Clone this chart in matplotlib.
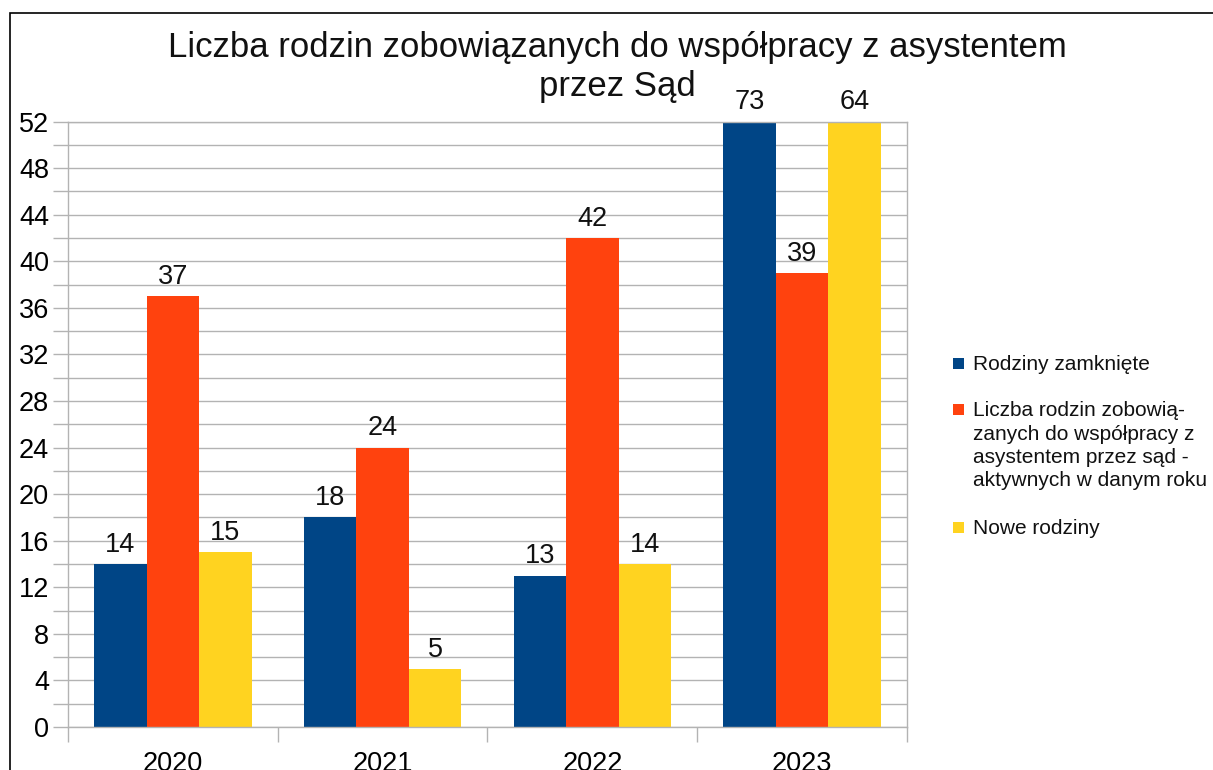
import matplotlib
matplotlib.use('Agg')
from matplotlib import pyplot as plt
from matplotlib import patches
import numpy as np

plt.rcParams['font.family'] = ['Liberation Sans', 'DejaVu Sans']

# dane z wykresu
years = ['2020', '2021', '2022', '2023']
zamkniete = [14, 18, 13, 73]
aktywne = [37, 24, 42, 39]
nowe = [15, 5, 14, 64]
series_names = ['Rodziny zamknięte',
                'Liczba rodzin zobowią-\nzanych do współpracy z\nasystentem przez sąd -\naktywnych w danym roku',
                'Nowe rodziny']
colors = ['#004586', '#ff420e', '#ffd320']
y_max = 52

W, H = 1213, 770
fig = plt.figure(figsize=(W / 100, H / 100), dpi=100)
ax = fig.add_axes([68 / W, 43 / H, (907 - 68) / W, (727 - 121.5) / H])

x = np.arange(len(years))
width = 0.25
for i, (vals, name, c) in enumerate(zip([zamkniete, aktywne, nowe], series_names, colors)):
    pos = x + (i - 1) * width
    ax.bar(pos, vals, width, color=c, label=name, zorder=2)
    for px, v in zip(pos, vals):
        # slupki ponad 52 sa uciete, etykieta nad krawedzia wykresu
        ax.annotate(str(v), (px, min(v, y_max)), xytext=(0, 4.5), textcoords='offset points',
                    ha='center', va='bottom', fontsize=19.5, color='#111111',
                    annotation_clip=False)

ax.set_xlim(-0.5, len(years) - 0.5)
ax.set_ylim(0, y_max)

# os y
ax.set_yticks(np.arange(0, y_max + 1, 4))
ax.set_yticks(np.arange(0, y_max + 1, 2), minor=True)
ax.tick_params(axis='y', which='both', length=11, width=1, color='#b3b3b3',
               labelsize=19.5, pad=2.5)
ax.grid(axis='y', which='both', color='#b3b3b3', linewidth=1)

# os x - kreski na granicach kategorii
ax.set_xticks(x)
ax.set_xticklabels(years)
ax.set_xticks(np.arange(-0.5, len(years), 1), minor=True)
ax.tick_params(axis='x', which='major', length=0, labelsize=19.5, pad=17)
ax.tick_params(axis='x', which='minor', length=11, width=1, color='#b3b3b3')

for s in ax.spines.values():
    s.set_color('#b3b3b3')
    s.set_linewidth(1)
ax.set_axisbelow(True)

fig.text(617 / W, 1 - 31 / H, 'Liczba rodzin zobowiązanych do współpracy z asystentem\nprzez Sąd',
         ha='center', va='top', fontsize=25, linespacing=1.22, color='#111111')

# legenda rysowana recznie (kwadrat przy pierwszej linii opisu)
line_h = 24
y_cur = 363
for name, c in zip(series_names, colors):
    fig.patches.append(patches.Rectangle((953 / W, 1 - (y_cur + 6) / H), 11 / W, 11 / H,
                                         transform=fig.transFigure, facecolor=c, edgecolor='none'))
    fig.text(973 / W, 1 - (y_cur - 8) / H, name, ha='left', va='top', fontsize=15,
             linespacing=1.3, color='#111111')
    y_cur += name.count('\n') * line_h + 46

# ramka wokol wykresu
fig.patches.append(patches.Rectangle((10 / W, -0.2), 1.5, 1.2 - 13 / H, transform=fig.transFigure,
                                     fill=False, edgecolor='black', linewidth=1.2))

fig.savefig('out.png', dpi=100)
